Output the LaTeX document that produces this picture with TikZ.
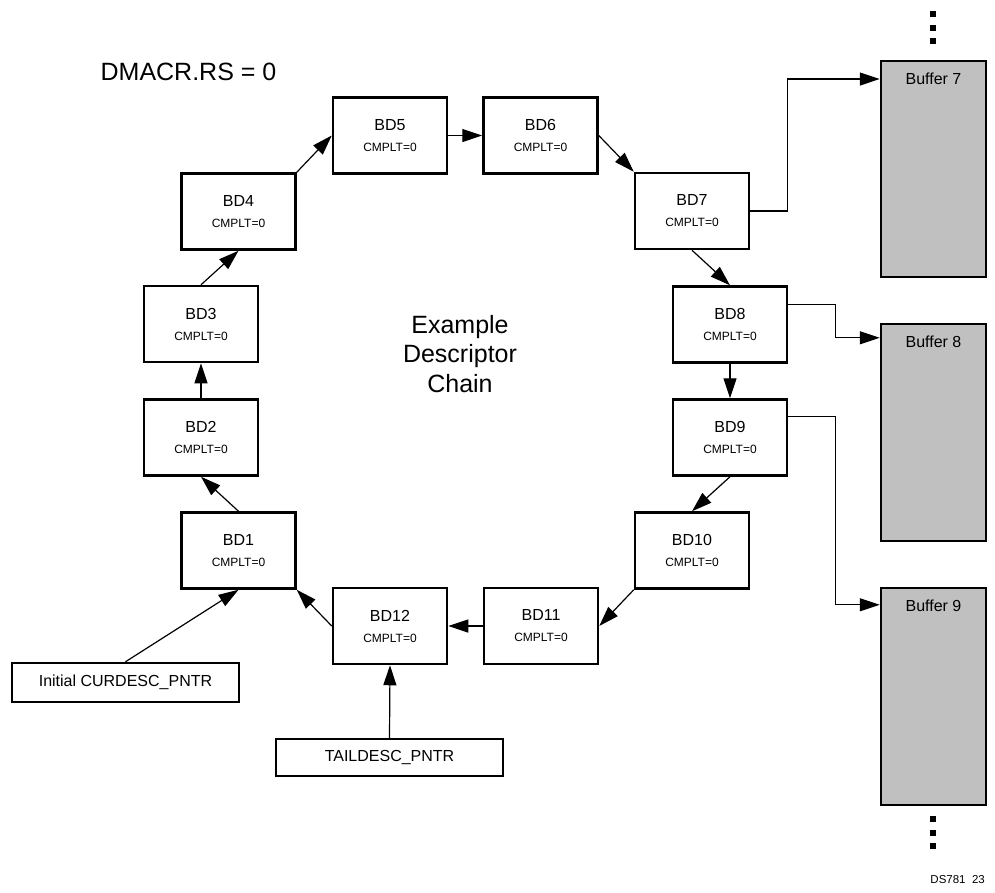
\documentclass[tikz,border=0pt]{standalone}
\usepackage{fontspec}
\setmainfont{Liberation Sans}
\usetikzlibrary{arrows.meta}
\definecolor{bufgray}{RGB}{192,192,192}
\begin{document}
\begin{tikzpicture}[x=1pt,y=-1pt,
  bdbox/.style={draw,line width=2.5pt,minimum width=114pt,minimum height=76pt,inner sep=0pt,align=center,
    font=\fontsize{16}{22}\selectfont},
  ptrbox/.style={draw,line width=2.5pt,minimum width=227pt,inner sep=0pt,font=\fontsize{16}{19}\selectfont},
  bufbox/.style={draw,line width=2.5pt,fill=bufgray,minimum width=105pt,minimum height=217pt,inner sep=0pt},
  buflabel/.style={font=\fontsize{16}{19}\selectfont,inner sep=0pt},
  arr/.style={line width=1.2pt,-{Triangle[length=20pt,width=13pt]}},
  dotsq/.style={fill=black,minimum size=6pt,inner sep=0pt},
  bigtext/.style={font=\fontsize{25}{29.5}\selectfont,align=center,inner sep=0pt}
]
\useasboundingbox (0,0) rectangle (995,892);
\newcommand{\cm}{\\[-1pt]{\fontsize{12}{22}\selectfont CMPLT=0}}
\node[bdbox] (BD1) at (238.5,550.5) {BD1\cm};
\node[bdbox] (BD2) at (201,437.5) {BD2\cm};
\node[bdbox] (BD3) at (201,324) {BD3\cm};
\node[bdbox] (BD4) at (238.5,211.5) {BD4\cm};
\node[bdbox] (BD5) at (390,135.5) {BD5\cm};
\node[bdbox] (BD6) at (540.5,135.5) {BD6\cm};
\node[bdbox] (BD7) at (692,211) {BD7\cm};
\node[bdbox] (BD8) at (730,324.5) {BD8\cm};
\node[bdbox] (BD9) at (730,437.5) {BD9\cm};
\node[bdbox] (BD10) at (692,550.5) {BD10\cm};
\node[bdbox] (BD11) at (541,626) {BD11\cm};
\node[bdbox] (BD12) at (390,626) {BD12\cm};

\node[ptrbox,minimum height=39pt] (init) at (125.5,682.5) {Initial CURDESC\_PNTR};
\node[ptrbox,minimum height=37pt] (tail) at (389.5,757.5) {TAILDESC\_PNTR};

\node[bufbox,minimum height=216pt] (buf7) at (933.5,169) {};
\node[bufbox] (buf8) at (933.5,432.5) {};
\node[bufbox] (buf9) at (933.5,696.5) {};
\node[buflabel] (lb7) at (933.5,79) {Buffer 7};
\node[buflabel] (lb8) at (933.5,342) {Buffer 8};
\node[buflabel] (lb9) at (933.5,606) {Buffer 9};

\node[dotsq] (d1) at (933,14) {};
\node[dotsq] (d2) at (933,27.5) {};
\node[dotsq] (d3) at (933,41) {};
\node[dotsq] (d4) at (933,819) {};
\node[dotsq] (d5) at (933,832.5) {};
\node[dotsq] (d6) at (933,846) {};

\node[bigtext] (title) at (188.5,72) {DMACR.RS = 0};
\node[bigtext] (chain) at (460,354) {Example\\Descriptor\\Chain};
\node[font=\fontsize{11.5}{14}\selectfont,inner sep=0pt,anchor=east] (ds) at (985,880) {DS781\ \ 23};

\draw[arr] (BD1.north) -- (BD2.south);
\draw[arr] (BD2.north) -- (BD3.south);
\draw[arr] (BD3.north) -- (BD4.south);
\draw[arr] (BD4.north east) -- (BD5.west);
\draw[arr] (BD5.east) -- (BD6.west);
\draw[arr] (BD6.east) -- (BD7.north west);
\draw[arr] (BD7.south) -- (BD8.north);
\draw[arr] (BD8.south) -- (BD9.north);
\draw[arr] (BD9.south) -- (BD10.north);
\draw[arr] (BD10.south west) -- (BD11.east);
\draw[arr] (BD11.west) -- (BD12.east);
\draw[arr] (BD12.west) -- (BD1.south east);
\draw[arr] (init.north) -- (BD1.south);
\draw[arr] (tail.north) -- (BD12.south);

\draw[arr] (BD7.east) -- ++(37,0) |- (buf7.west |- lb7);
\draw[arr] ([yshift=-19pt]BD8.north east) -- ++(47,0) |- ([yshift=-15pt]buf8.north west);
\draw[arr] ([yshift=-18pt]BD9.north east) -- ++(47,0) |- ([yshift=-18pt]buf9.north west);
\end{tikzpicture}
\end{document}
